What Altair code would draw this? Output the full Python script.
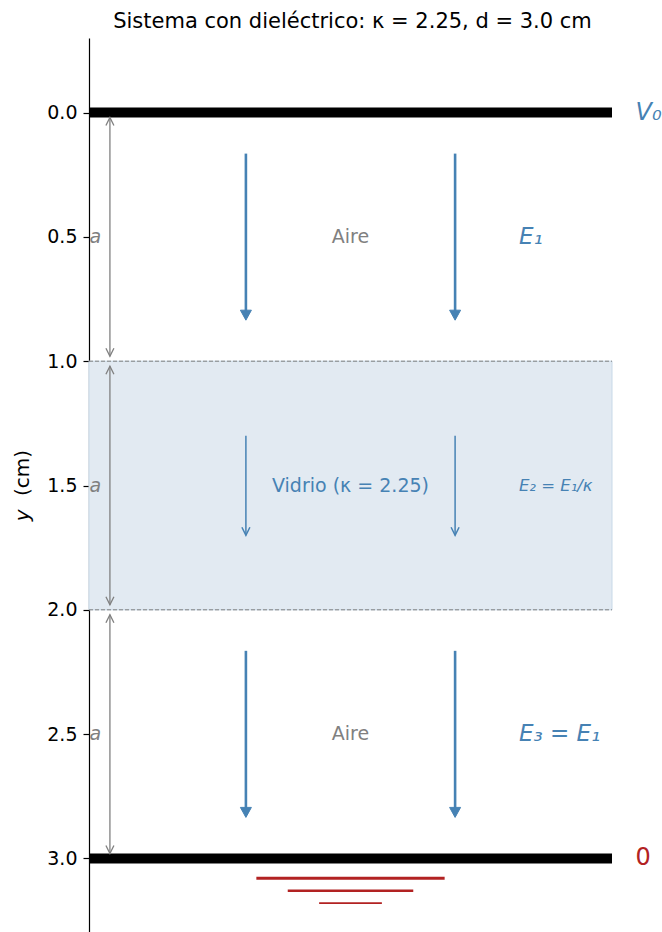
import altair as alt
import pandas as pd

# ---------------- data ----------------
plate_y = [0.0, 3.0]
interface_y = [1.0, 2.0]
arrow_x = [0.3, 0.7]
air1_span = [0.165, 0.835]
glass_span = [1.30, 1.70]
air3_span = [2.165, 2.835]
dim_x = 0.04
dim_top = [0.02, 1.02, 2.02]
dim_bot = [0.98, 1.98, 2.98]
a_label_y = [0.5, 1.5, 2.5]
ground_y = [3.08, 3.13, 3.18]
ground_x1 = [0.32, 0.38, 0.44]
ground_x2 = [0.68, 0.62, 0.56]
ground_w = [3.0, 2.5, 1.7]
tick_vals = [0.0, 0.5, 1.0, 1.5, 2.0, 2.5, 3.0]

region_labels = ["Aire", "Vidrio (κ = 2.25)", "Aire"]
region_label_y = [0.5, 1.5, 2.5]
region_label_col = ["#808080", "#4682b4", "#808080"]
field_labels = ["E₁", "E₂ = E₁/κ", "E₃ = E₁"]
field_label_y = [0.5, 1.5, 2.5]
field_label_size = [23, 16.5, 23]

STEEL = "#4682b4"
GREY = "#808080"
RED = "#b22222"

yscale = alt.Scale(domain=[-0.3, 3.3], reverse=True, nice=False, zero=False)
xscale = alt.Scale(domain=[0, 1], nice=False, zero=False)
yaxis = alt.Axis(values=tick_vals, format=".1f", grid=False, tickSize=6,
                 labelPadding=6, labelFontSize=19, labelColor="black",
                 domainColor="black", tickColor="black", domainWidth=1.2,
                 tickWidth=1.2, title=None, labelFont="DejaVu Sans")


def Y(field):
    return alt.Y(field, type="quantitative", scale=yscale, axis=yaxis)


def X(field):
    return alt.X(field, type="quantitative", scale=xscale, axis=None)


# dielectric slab
slab_df = pd.DataFrame({"x": [0.0], "x2": [1.0], "y": [interface_y[0]], "y2": [interface_y[1]]})
slab = alt.Chart(slab_df).mark_rect(fill="#e2eaf2", stroke="#c8d9e8", strokeWidth=1).encode(
    x=X("x"), x2="x2", y=Y("y"), y2="y2")

# dashed interfaces
iface_df = pd.DataFrame({"x": [0.0, 0.0], "x2": [1.0, 1.0], "y": interface_y})
iface = alt.Chart(iface_df).mark_rule(color=GREY, strokeWidth=1, strokeDash=[4, 2]).encode(
    x=X("x"), x2="x2", y=Y("y"))

# plates
plate_df = pd.DataFrame({"x": [0.0, 0.0], "x2": [1.0, 1.0], "y": plate_y})
plates = alt.Chart(plate_df).mark_rule(color="black", strokeWidth=10).encode(
    x=X("x"), x2="x2", y=Y("y"))

# field arrows (air: thick, glass: thin)
thick_rows = []
for xv in arrow_x:
    for s in (air1_span, air3_span):
        thick_rows.append({"x": xv, "y": s[0], "y2": s[1] - 0.02, "tip": s[1]})
thin_rows = []
for xv in arrow_x:
    thin_rows.append({"x": xv, "y": glass_span[0], "y2": glass_span[1], "tip": glass_span[1]})
thick_df = pd.DataFrame(thick_rows)
thin_df = pd.DataFrame(thin_rows)

thick_shaft = alt.Chart(thick_df).mark_rule(color=STEEL, strokeWidth=2.6).encode(
    x=X("x"), y=Y("y"), y2="y2")
thick_head = alt.Chart(thick_df).mark_point(
    shape="M-0.55,-1L0,0L0.55,-1Z", size=400, filled=True, color=STEEL,
    stroke=STEEL, strokeWidth=1, opacity=1).encode(x=X("x"), y=Y("tip"))
thin_shaft = alt.Chart(thin_df).mark_rule(color=STEEL, strokeWidth=1.5).encode(
    x=X("x"), y=Y("y"), y2="y2")
thin_head = alt.Chart(thin_df).mark_point(
    shape="M-0.5,-1L0,0L0.5,-1", size=256, filled=False, color=STEEL,
    strokeWidth=1.5, opacity=1).encode(x=X("x"), y=Y("tip"))

# grey dimension arrows
dim_df = pd.DataFrame({"x": [dim_x] * 3, "y": dim_top, "y2": dim_bot})
dim_shaft = alt.Chart(dim_df).mark_rule(color=GREY, strokeWidth=1.3).encode(
    x=X("x"), y=Y("y"), y2="y2")
dim_head_up = alt.Chart(dim_df).mark_point(
    shape="M-0.5,1L0,0L0.5,1", size=256, filled=False, color=GREY,
    strokeWidth=1.3, opacity=1).encode(x=X("x"), y=Y("y"))
dim_head_dn = alt.Chart(dim_df).mark_point(
    shape="M-0.5,-1L0,0L0.5,-1", size=256, filled=False, color=GREY,
    strokeWidth=1.3, opacity=1).encode(x=X("x"), y=Y("y2"))

a_df = pd.DataFrame({"x": [0.012] * 3, "y": a_label_y, "t": ["a"] * 3})
a_text = alt.Chart(a_df).mark_text(fontSize=19, fontStyle="italic", color=GREY,
                                   align="center", baseline="middle").encode(
    x=X("x"), y=Y("y"), text="t")

# region labels
reg_df = pd.DataFrame({"x": [0.5] * 3, "y": region_label_y, "t": region_labels,
                       "c": region_label_col})
reg_text = alt.Chart(reg_df).mark_text(fontSize=19, align="center", baseline="middle").encode(
    x=X("x"), y=Y("y"), text="t", color=alt.Color("c:N", scale=None))

# field labels
fld_df = pd.DataFrame({"x": [0.822] * 3, "y": field_label_y, "t": field_labels,
                       "s": field_label_size})
fld_text = alt.Chart(fld_df).mark_text(fontStyle="italic", color=STEEL, align="left",
                                       baseline="middle").encode(
    x=X("x"), y=Y("y"), text="t", size=alt.Size("s:Q", scale=None))

# potentials
pot_df = pd.DataFrame({"x": [1.045, 1.045], "y": plate_y, "t": ["V₀", "0"]})
pot_v = alt.Chart(pot_df.iloc[[0]]).mark_text(fontSize=24, fontStyle="italic", align="left",
                                              baseline="middle", color=STEEL).encode(
    x=X("x"), y=Y("y"), text="t")
pot_0 = alt.Chart(pot_df.iloc[[1]]).mark_text(fontSize=24, align="left",
                                              baseline="middle", color=RED).encode(
    x=X("x"), y=Y("y"), text="t")

# ground symbol
gnd_df = pd.DataFrame({"x": ground_x1, "x2": ground_x2, "y": ground_y, "w": ground_w})
ground = alt.Chart(gnd_df).mark_rule(color=RED).encode(
    x=X("x"), x2="x2", y=Y("y"), strokeWidth=alt.StrokeWidth("w:Q", scale=None))

# y-axis title (italic y + (cm))
ylab_df = pd.DataFrame({"y": [1.62, 1.45], "t": ["y", "(cm)"]})
ylab_y = alt.Chart(ylab_df.iloc[[0]]).mark_text(fontSize=20, fontStyle="italic", angle=270,
                                                align="center", baseline="middle",
                                                color="black").encode(
    x=alt.value(-66), y=Y("y"), text="t")
ylab_cm = alt.Chart(ylab_df.iloc[[1]]).mark_text(fontSize=20, angle=270, align="center",
                                                 baseline="middle", color="black").encode(
    x=alt.value(-66), y=Y("y"), text="t")

chart = alt.layer(
    slab, iface, plates,
    thick_shaft, thick_head, thin_shaft, thin_head,
    dim_shaft, dim_head_up, dim_head_dn, a_text,
    reg_text, fld_text, pot_v, pot_0, ground, ylab_y, ylab_cm,
).properties(
    width=523, height=895,
    title=alt.TitleParams("Sistema con dieléctrico: κ = 2.25,  d = 3.0 cm",
                          fontSize=21, fontWeight="normal", color="black",
                          font="DejaVu Sans", offset=6, anchor="middle", dx=2),
    autosize=alt.AutoSizeParams(type="none"),
    padding={"left": 89, "top": 38, "right": 50, "bottom": 0},
).configure(font="DejaVu Sans").configure_view(stroke=None)

chart.save("out.html", embed_options={"renderer": "svg", "actions": False})
